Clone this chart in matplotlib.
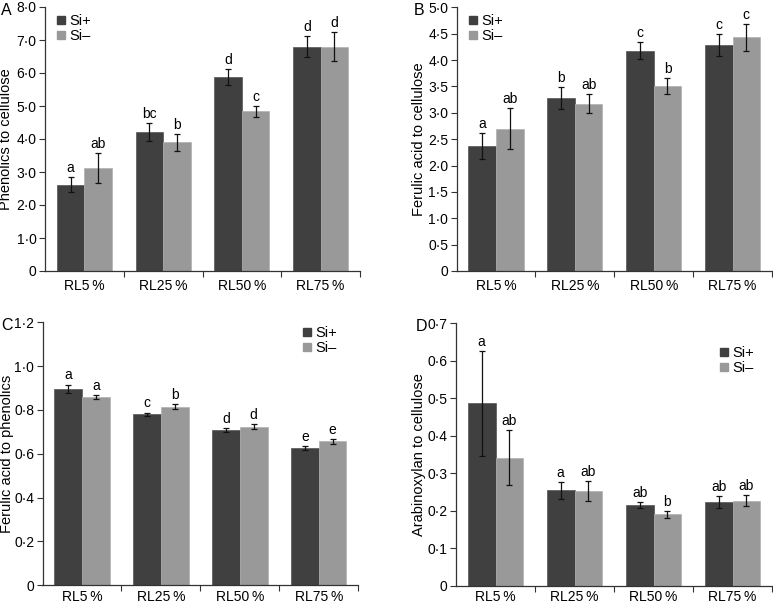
import matplotlib
matplotlib.use("Agg")
import matplotlib.pyplot as plt
import numpy as np
from matplotlib.lines import Line2D

plt.rcParams['font.family'] = ['Liberation Sans', 'DejaVu Sans']

groups = ["RL5\u2009%", "RL25\u2009%", "RL50\u2009%", "RL75\u2009%"]
series = ["Si+", "Si\u2013"]

# Panel A: Phenolics to cellulose
a_plus = [2.62, 4.20, 5.88, 6.80]
a_plus_err = [0.23, 0.27, 0.23, 0.33]
a_minus = [3.13, 3.90, 4.84, 6.80]
a_minus_err = [0.45, 0.25, 0.17, 0.44]
a_plus_lab = ["a", "bc", "d", "d"]
a_minus_lab = ["ab", "b", "c", "d"]

# Panel B: Ferulic acid to cellulose
b_plus = [2.37, 3.28, 4.18, 4.29]
b_plus_err = [0.25, 0.21, 0.16, 0.21]
b_minus = [2.70, 3.17, 3.50, 4.43]
b_minus_err = [0.39, 0.18, 0.15, 0.26]
b_plus_lab = ["a", "b", "c", "c"]
b_minus_lab = ["ab", "ab", "b", "c"]

# Panel C: Ferulic acid to phenolics
c_plus = [0.896, 0.781, 0.708, 0.626]
c_plus_err = [0.020, 0.007, 0.010, 0.009]
c_minus = [0.860, 0.815, 0.723, 0.656]
c_minus_err = [0.010, 0.010, 0.011, 0.013]
c_plus_lab = ["a", "c", "d", "e"]
c_minus_lab = ["a", "b", "d", "e"]

# Panel D: Arabinoxylan to cellulose
d_plus = [0.487, 0.254, 0.215, 0.222]
d_plus_err = [0.140, 0.023, 0.009, 0.016]
d_minus = [0.341, 0.252, 0.190, 0.226]
d_minus_err = [0.073, 0.026, 0.009, 0.015]
d_plus_lab = ["a", "a", "ab", "ab"]
d_minus_lab = ["ab", "ab", "b", "ab"]

DARK = "#404040"
LIGHT = "#999999"
W, H = 773, 604

fig = plt.figure(figsize=(W / 100, H / 100), dpi=100)


def px_axes(left, right, top, bottom):
    return fig.add_axes([left / W, 1 - bottom / H, (right - left) / W, (bottom - top) / H])


def fmt(v):
    if abs(v) < 1e-9:
        return "0"
    return f"{v:.1f}".replace(".", "\u00b7")


def panel(ax, plus, perr, minus, merr, plab, mlab, ymax, ystep, ylabel,
          leg_pos, ylab_x, xpad):
    x = np.arange(len(groups))
    w = 0.35
    ax.bar(x - w / 2, plus, w, color=DARK, edgecolor="#555555", linewidth=0.5, zorder=2)
    ax.bar(x + w / 2, minus, w, color=LIGHT, edgecolor="#b0b0b0", linewidth=0.5, zorder=2)
    ax.errorbar(x - w / 2, plus, yerr=perr, fmt="none", ecolor="#111111",
                elinewidth=0.9, capsize=2.5, capthick=0.9, zorder=3)
    ax.errorbar(x + w / 2, minus, yerr=merr, fmt="none", ecolor="#111111",
                elinewidth=0.9, capsize=2.5, capthick=0.9, zorder=3)
    for xi, v, e, t in zip(x - w / 2, plus, perr, plab):
        ax.annotate(t, (xi, v + e), xytext=(0, 1.5), textcoords="offset points",
                    ha="center", va="bottom", fontsize=10)
    for xi, v, e, t in zip(x + w / 2, minus, merr, mlab):
        ax.annotate(t, (xi, v + e), xytext=(0, 1.5), textcoords="offset points",
                    ha="center", va="bottom", fontsize=10)
    ax.set_xlim(-0.5, len(groups) - 0.5)
    ax.set_ylim(0, ymax)
    ticks = np.arange(0, ymax + ystep / 2, ystep)
    ax.set_yticks(ticks)
    ax.set_yticklabels([fmt(t) for t in ticks], fontsize=10)
    ax.set_xticks(x)
    ax.set_xticklabels(groups, fontsize=10)
    ax.set_xticks(np.arange(0.5, len(groups)), minor=True)
    ax.tick_params(axis="x", which="major", length=0, pad=xpad)
    ax.tick_params(axis="x", which="minor", length=4, width=0.8, color="#333333", direction="out")
    ax.tick_params(axis="y", length=4, width=0.8, color="#333333", direction="out", pad=2)
    for s in ["top", "right"]:
        ax.spines[s].set_visible(False)
    for s in ["left", "bottom"]:
        ax.spines[s].set_color("#333333")
        ax.spines[s].set_linewidth(0.9)
    ax.set_ylabel(ylabel, fontsize=10.5)
    ax.yaxis.set_label_coords(ylab_x, 0.5)
    handles = [Line2D([], [], marker="s", linestyle="none", color=DARK, markersize=6),
               Line2D([], [], marker="s", linestyle="none", color=LIGHT, markersize=6)]
    fig.legend(handles, series, loc="upper left", bbox_to_anchor=(leg_pos[0] / W, 1 - leg_pos[1] / H),
               frameon=False, fontsize=10.5, handlelength=0.6, handletextpad=0.25,
               labelspacing=0.1, borderpad=0, borderaxespad=0)
    return ax


axA = px_axes(45, 360, 7, 271)
panel(axA, a_plus, a_plus_err, a_minus, a_minus_err, a_plus_lab, a_minus_lab,
      8.0, 1.0, "Phenolics to cellulose", (57, 14), -0.100, 6)
fig.text(1 / W, 1 - 3 / H, "A", fontsize=11.5, ha="left", va="top")

axB = px_axes(456.5, 772, 7.3, 271)
panel(axB, b_plus, b_plus_err, b_minus, b_minus_err, b_plus_lab, b_minus_lab,
      5.0, 0.5, "Ferulic acid to cellulose", (469, 14), -0.097, 6)
fig.text(414 / W, 1 - 3 / H, "B", fontsize=11.5, ha="left", va="top")

axC = px_axes(42.5, 358.3, 322.3, 585.2)
panel(axC, c_plus, c_plus_err, c_minus, c_minus_err, c_plus_lab, c_minus_lab,
      1.2, 0.2, "Ferulic acid to phenolics", (303, 326), -0.091, 3.5)
fig.text(1 / W, 1 - 318 / H, "C", fontsize=11.5, ha="left", va="top")

axD = px_axes(456, 772, 323.3, 585.5)
panel(axD, d_plus, d_plus_err, d_minus, d_minus_err, d_plus_lab, d_minus_lab,
      0.7, 0.1, "Arabinoxylan to cellulose", (720, 346), -0.095, 3.5)
fig.text(416 / W, 1 - 319 / H, "D", fontsize=11.5, ha="left", va="top")

fig.savefig("out.png", dpi=100)
